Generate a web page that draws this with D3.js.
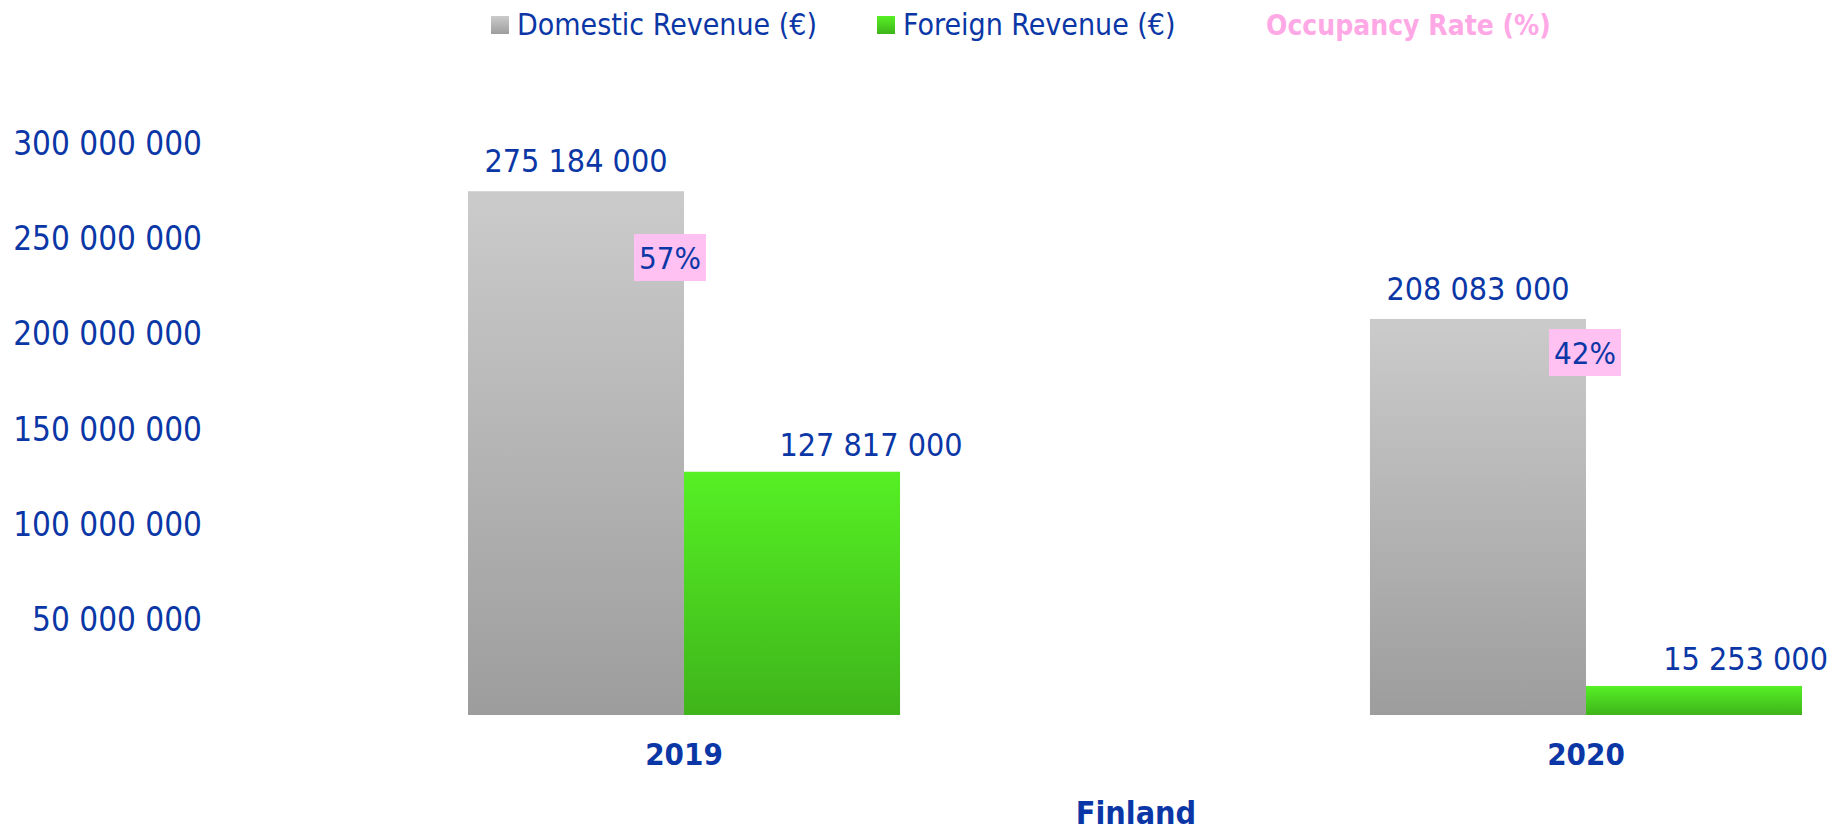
<!DOCTYPE html>
<html>
<head>
<meta charset="utf-8">
<script src="https://cdn.jsdelivr.net/npm/d3@7"></script>
<style>
  html, body { margin: 0; padding: 0; background: #ffffff; }
  svg { display: block; }
  text { font-family: "DejaVu Sans Condensed", "DejaVu Sans", sans-serif; font-stretch: condensed; }
</style>
</head>
<body>
<svg id="chart" width="1833" height="831"></svg>
<script>
// ---- Data ----
const years = ["2019", "2020"];
const seriesNames = ["Domestic Revenue (€)", "Foreign Revenue (€)"];
const domesticRevenue = [275184000, 208083000];
const foreignRevenue = [127817000, 15253000];
const occupancyRate = [57, 42];
const occupancyName = "Occupancy Rate (%)";
const yTicks = [50000000, 100000000, 150000000, 200000000, 250000000, 300000000];
const xAxisTitle = "Finland";

// ---- Setup ----
const BLUE = "#0b37a6";
const PINK_TEXT = "#ffa8e6";
const PINK_BOX = "#ffc0f2";
const FONT = '"DejaVu Sans Condensed", "DejaVu Sans", sans-serif';
const svg = d3.select("#chart");

const defs = svg.append("defs");
function grad(id, top, bottom) {
  const g = defs.append("linearGradient").attr("id", id)
    .attr("x1", 0).attr("y1", 0).attr("x2", 0).attr("y2", 1);
  g.append("stop").attr("offset", "0%").attr("stop-color", top);
  g.append("stop").attr("offset", "100%").attr("stop-color", bottom);
}
grad("gGrey", "#cbcbcb", "#9d9d9d");
grad("gGreen", "#56f024", "#3fb41b");
const fills = ["url(#gGrey)", "url(#gGreen)"];

const fmt = v => d3.format(",")(v).replace(/,/g, " ");

// scales
const y = d3.scaleLinear().domain([0, 300000000]).range([715, 144]);
const x0 = d3.scaleBand().domain(years).range([468, 1802]).paddingInner(0.521).paddingOuter(0);
const x1 = d3.scaleBand().domain(seriesNames).range([0, x0.bandwidth()]).padding(0);
const xOcc = d3.scalePoint().domain(years).range([670, 1585]);
const yOcc = d3.scaleLinear().domain([0, 100]).range([618.5, -14.8]);

// y axis
const yAxis = d3.axisLeft(y).tickValues(yTicks).tickFormat(fmt).tickSize(0).tickPadding(0);
const gy = svg.append("g").attr("transform", "translate(202,0)").call(yAxis);
gy.select(".domain").remove();
gy.selectAll("text").attr("fill", BLUE).style("font-size", "33px").style("font-family", FONT);

// x axis (category labels)
const xAxis = d3.axisBottom(x0).tickSize(0).tickPadding(0);
const gx = svg.append("g").attr("transform", "translate(0,742)").call(xAxis);
gx.select(".domain").remove();
gx.selectAll("text").attr("fill", BLUE).attr("dy", "0.74em").attr("y", 0)
  .style("font-size", "31px").style("font-weight", "bold").style("font-family", FONT);

// axis title
svg.append("text").attr("x", 1136).attr("y", 824).attr("text-anchor", "middle")
  .attr("fill", BLUE).style("font-size", "32px").style("font-weight", "bold").text(xAxisTitle);

// bars
const rows = years.map((yr, i) => ({ year: yr, vals: [domesticRevenue[i], foreignRevenue[i]] }));
const groups = svg.append("g").selectAll("g").data(rows).join("g")
  .attr("transform", d => `translate(${x0(d.year)},0)`);

groups.selectAll("rect").data(d => d.vals.map((v, k) => ({ k, v })))
  .join("rect")
  .attr("x", d => x1(seriesNames[d.k]))
  .attr("y", d => y(d.v))
  .attr("width", x1.bandwidth())
  .attr("height", d => y(0) - y(d.v))
  .attr("fill", d => fills[d.k]);

// value labels
groups.each(function (d) {
  const gx0 = x0(d.year);
  const g = d3.select(this);
  d.vals.forEach((v, k) => {
    let cx = x1(seriesNames[k]) + x1.bandwidth() / 2;
    const t = g.append("text")
      .attr("y", y(v) - (k === 0 ? 19 : 16))
      .attr("text-anchor", "middle")
      .attr("fill", BLUE).style("font-size", "32px").text(fmt(v));
    if (k === 1) {
      cx += 79;
      const w = t.node().getComputedTextLength();
      const maxRight = 1828 - gx0;
      if (cx + w / 2 > maxRight) cx = maxRight - w / 2;
    }
    t.attr("x", cx);
  });
});

// occupancy labels (secondary series, labels only)
const occ = svg.append("g").selectAll("g").data(years.map((yr, i) => ({ yr, v: occupancyRate[i] })))
  .join("g")
  .attr("transform", d => `translate(${xOcc(d.yr)},${yOcc(d.v)})`);
occ.append("rect").attr("x", -36).attr("y", -23.5).attr("width", 72).attr("height", 47).attr("fill", PINK_BOX);
occ.append("text").attr("text-anchor", "middle").attr("dy", "0.36em")
  .attr("fill", BLUE).style("font-size", "31px").text(d => d.v + "%");

// legend
const legendItems = [
  { name: seriesNames[0], fill: fills[0], x: 491, marker: true, color: BLUE, bold: false, size: 30 },
  { name: seriesNames[1], fill: fills[1], x: 877, marker: true, color: BLUE, bold: false, size: 30 },
  { name: occupancyName, fill: null, x: 1266, marker: false, color: PINK_TEXT, bold: true, size: 28 }
];
const lg = svg.append("g").selectAll("g").data(legendItems).join("g")
  .attr("transform", d => `translate(${d.x},0)`);
lg.filter(d => d.marker).append("rect").attr("x", 0).attr("y", 16).attr("width", 18).attr("height", 18)
  .attr("fill", d => d.fill);
lg.append("text").attr("x", d => d.marker ? 26 : 0).attr("y", 35)
  .attr("fill", d => d.color).style("font-size", d => d.size + "px")
  .style("font-weight", d => d.bold ? "bold" : "normal").text(d => d.name);
</script>
</body>
</html>
